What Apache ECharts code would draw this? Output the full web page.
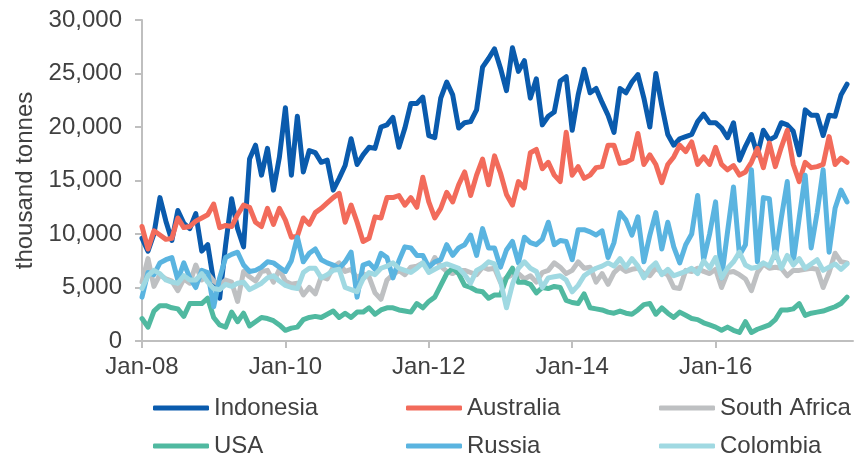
<!DOCTYPE html>
<html>
<head>
<meta charset="utf-8">
<script src="https://cdn.jsdelivr.net/npm/echarts@6/dist/echarts.min.js"></script>
<style>
  html, body { margin: 0; padding: 0; background: #ffffff; }
  #chart { width: 860px; height: 458px; }
</style>
</head>
<body>
<div id="chart"></div>
<script>
// Monthly coal exports, thousand tonnes, Jan-08 .. Nov-17
const startYear = 2008;
const monthCount = 120;          // axis runs Jan-08 .. Dec-17
const tickLabels = ['Jan-08', 'Jan-10', 'Jan-12', 'Jan-14', 'Jan-16'];

const seriesNames = ['Indonesia', 'Australia', 'South Africa', 'USA', 'Russia', 'Colombia'];
const seriesColors = ['#0A5BAD', '#F26B5B', '#BEC0C2', '#50B9A0', '#5AB4E0', '#A0D9E2'];

const indonesia = [
  9600, 8400, 10000, 13400, 11200, 9400, 12200, 11000, 10500, 11900, 8400, 9000,
  5500, 4000, 9000, 13300, 10500, 8800, 17000, 18300, 15500, 18000, 14100, 17200,
  21800, 15500, 21000, 15800, 17800, 17600, 16700, 16900, 14100, 15200, 16400, 18900,
  16500, 17400, 18100, 18000, 20000, 20200, 20900, 18100, 19900, 22200, 22200, 22800,
  19200, 19000, 22700, 24200, 23000, 19900, 20400, 20500, 21600, 25600, 26400, 27300,
  25500, 23400, 27400, 25200, 26200, 22700, 24500, 20200, 21000, 21400, 24300, 24700,
  19700, 23000, 25400, 23200, 23600, 22300, 21100, 19500, 23600, 23200, 24200, 24900,
  22700, 20000, 25000, 22000, 19300, 18300, 18900, 19100, 19300, 20500, 21200, 20400,
  20400, 19900, 19000, 20400, 16900, 18200, 19300, 17400, 19700, 18800, 19100, 20400,
  20200, 19600, 17400, 21600, 21100, 21100, 19200, 21100, 21000, 23000, 24000
];

const australia = [
  10700, 8600, 10300, 9900, 9500, 9600, 11500, 10600, 10700, 11200, 11500, 11800,
  12800, 10600, 10800, 10700, 11800, 12700, 12500, 11100, 10700, 12400, 10900, 12400,
  11300, 9700, 9800, 11500, 10900, 12000, 12400, 12900, 13400, 13800, 11100, 12700,
  11100, 9300, 9600, 11600, 11500, 13400, 13400, 13600, 12700, 13400, 12500, 15300,
  13000, 11500, 12400, 13900, 13000, 14600, 15800, 13600, 15500, 17000, 14600, 17300,
  15700, 13700, 12700, 14900, 14300, 17600, 17900, 16100, 16700, 15500, 14900, 19500,
  15500, 16300, 15200, 15500, 16200, 16300, 18300, 18300, 16600, 16700, 17000, 19400,
  16500, 17400, 16500, 14800, 16500, 17200, 18300, 17700, 18600, 16500, 17200, 16500,
  18100, 16500, 16000, 16400, 15500, 15800, 16700, 18000, 16200, 18500, 16300, 18100,
  19700, 16500, 14900, 16700, 16200, 16300, 16500, 19100, 16500, 17100, 16700
];

const southAfrica = [
  5500, 7700, 5100, 6200, 5800, 5600, 4700, 5800, 5400, 7100, 5700, 6300,
  5600, 5200, 5700, 5500, 3700, 6500, 6000, 5600, 6500, 6600, 5500, 6700,
  5600, 5300, 5400, 4300, 5000, 4400, 6000, 5800, 6900, 7300, 6500, 6700,
  5900, 6300, 6000, 4500, 3900, 5700, 6200, 6600, 6200, 6900, 7000, 7300,
  6700, 7800, 7000, 6500, 6300, 6600, 6600, 6400, 6200, 6900, 6700, 6800,
  5500, 5900, 6200, 6300, 5800, 6100, 5500, 6400, 6600, 7300, 6900, 6300,
  6600, 7400, 6800, 6900, 5500, 6300, 5300, 6400, 6900, 6500, 6700, 6800,
  6300, 6100, 6800, 6400, 6200, 5000, 4900, 6600, 6500, 6800, 6500, 6300,
  6700, 5000, 6400, 6500, 6200, 5800, 4700, 6400, 7200, 6800, 6900, 6800,
  6100, 6600, 6600, 6700, 6800, 6700, 5000, 6400, 8200, 7400, 7300
];

const usa = [
  2100, 1300, 2800, 3300, 3300, 3100, 3000, 2300, 3500, 3500, 3500, 4000,
  2200, 1500, 1300, 2700, 1800, 2600, 1400, 1800, 2200, 2100, 1900, 1500,
  1000, 1200, 1300, 2000, 2200, 2300, 2200, 2500, 2800, 2200, 2600, 2200,
  2700, 2700, 3100, 2500, 2900, 3100, 3100, 2900, 2800, 2700, 3500, 3100,
  3700, 4100, 5200, 6300, 6800, 6300, 5200, 5000, 4700, 4600, 4000, 4300,
  4300, 5900, 6800, 5500, 5500, 5300, 4500, 5000, 4900, 5100, 5000, 3800,
  3600, 3500, 4400, 3100, 3000, 2900, 2700, 2600, 2800, 2600, 2500, 2900,
  3400, 3500, 2500, 3100, 2600, 2200, 2700, 2400, 2100, 2000, 1700, 1500,
  1300, 1000, 1300, 1000, 800, 1800, 800, 1100, 1300, 1500, 2000, 2900,
  2900, 3000, 3500, 2400, 2600, 2700, 2800, 3000, 3200, 3500, 4100
];

const russia = [
  4100, 6400, 6200, 7300, 7600, 7800, 5700, 7300, 5900, 5000, 6600, 6400,
  3200, 5900, 7800, 8100, 8300, 7100, 6500, 6600, 6900, 7400, 7300, 6900,
  6500, 7500, 9700, 7400, 8200, 8600, 7600, 7300, 7100, 6800, 7400, 8300,
  4100, 7100, 7300, 6700, 8200, 7800, 5900, 7500, 8800, 8700, 8000, 8000,
  6900, 7400, 7600, 9000, 8000, 8700, 9000, 9900, 8000, 10500, 8700, 8700,
  6900, 8500, 9300, 7300, 9700, 9200, 9000, 9500, 11100, 9000, 9400, 9300,
  7600, 10400, 10400, 10200, 9900, 10300, 7800, 9200, 12000, 11300, 9900, 11600,
  7400, 9900, 12000, 8600, 11100, 8800, 7300, 9000, 10000, 13600, 7600, 10000,
  13000, 5900, 10200, 14400, 8000, 9000, 16000, 7400, 13400, 13300, 7800, 11500,
  14900, 7400, 11500, 15500, 8700, 12000, 16000, 8300, 12400, 14100, 13000
];

const colombia = [
  4900, 6100, 6600, 6300, 5700, 5500, 5400, 6100, 5700, 5700, 6300, 5500,
  4900, 4800, 5300, 5100, 5400, 5500, 4800, 5100, 5400, 5900, 6100, 5600,
  5200, 5000, 4900, 6400, 6800, 6800, 5900, 6200, 6600, 6700, 5000, 4800,
  4600, 5800, 6400, 6200, 6800, 7000, 7300, 6800, 6600, 6400, 6800, 7300,
  6400, 6700, 7000, 7200, 7000, 6800, 6200, 5400, 6600, 6900, 7400, 7200,
  5600, 3100, 5300, 6800, 7400, 6800, 6500, 5000, 5900, 6000, 6100, 5700,
  4600, 5200, 6100, 6500, 6800, 7000, 7300, 7000, 7700, 6900, 7700, 7000,
  5900, 6800, 7300, 6200, 6700, 6100, 6300, 6500, 6800, 6300, 7500, 6800,
  7800, 5900, 6800, 7400, 8300, 7100, 6800, 6900, 7300, 7000, 8300, 6800,
  8000, 7100, 7700, 6800, 7200, 7600, 6600, 6900, 7200, 6700, 7200
];

const seriesValues = [indonesia, australia, southAfrica, usa, russia, colombia];

// month categories: Jan-08, Feb-08, ...
const monthNames = ['Jan', 'Feb', 'Mar', 'Apr', 'May', 'Jun', 'Jul', 'Aug', 'Sep', 'Oct', 'Nov', 'Dec'];
const categories = [];
for (let i = 0; i < monthCount; i++) {
  const y = startYear + Math.floor(i / 12);
  categories.push(monthNames[i % 12] + '-' + String(y % 100).padStart(2, '0'));
}
const isTick = (idx) => tickLabels.indexOf(categories[idx]) !== -1;

const textColor = '#404040';
const axisGray = '#BFBFBF';
const fontFamily = '"Liberation Sans", Arial, sans-serif';

const chart = echarts.init(document.getElementById('chart'), null, { renderer: 'canvas' });

// legend laid out as three columns of two rows
const legendColumns = [
  ['Indonesia', 'USA'],
  ['Australia', 'Russia'],
  ['South Africa', 'Colombia']
];
const legendLefts = [153, 406, 659];

chart.setOption({
  animation: false,
  backgroundColor: '#ffffff',
  textStyle: { fontFamily: fontFamily },
  grid: { left: 142, right: 7, top: 20, bottom: 117, containLabel: false },
  legend: legendColumns.map((names, c) => ({
    data: names,
    orient: 'vertical',
    left: legendLefts[c],
    top: 396,
    width: 240,
    height: 62,
    padding: 0,
    icon: 'roundRect',
    itemWidth: 56,
    itemHeight: 5,
    itemGap: 14,
    selectedMode: false,
    textStyle: { color: textColor, fontSize: 24, lineHeight: 24, fontFamily: fontFamily }
  })),
  xAxis: {
    type: 'category',
    data: categories,
    boundaryGap: false,
    axisLine: { show: true, lineStyle: { color: axisGray, width: 2 } },
    axisTick: { show: true, interval: (idx) => isTick(idx), length: 7, lineStyle: { color: axisGray, width: 2 } },
    axisLabel: {
      interval: (idx) => isTick(idx),
      color: textColor,
      fontSize: 24,
      margin: 14,
      fontFamily: fontFamily
    },
    splitLine: { show: false }
  },
  yAxis: {
    type: 'value',
    min: 0,
    max: 30000,
    interval: 5000,
    name: 'thousand tonnes',
    nameLocation: 'middle',
    nameGap: 94,
    nameRotate: 90,
    nameTextStyle: { color: textColor, fontSize: 24, fontFamily: fontFamily },
    axisLine: { show: true, lineStyle: { color: axisGray, width: 2 } },
    axisTick: { show: true, inside: false, length: 7, lineStyle: { color: axisGray, width: 2 } },
    axisLabel: {
      color: textColor,
      fontSize: 24,
      margin: 20,
      fontFamily: fontFamily,
      formatter: (v) => v.toLocaleString('en-US')
    },
    splitLine: { show: false }
  },
  series: seriesNames.map((name, k) => ({
    name: name,
    type: 'line',
    data: seriesValues[k],
    showSymbol: false,
    symbol: 'none',
    smooth: false,
    color: seriesColors[k],
    lineStyle: { color: seriesColors[k], width: 5, cap: 'round', join: 'round' },
    emphasis: { disabled: true }
  }))
});
</script>
</body>
</html>
